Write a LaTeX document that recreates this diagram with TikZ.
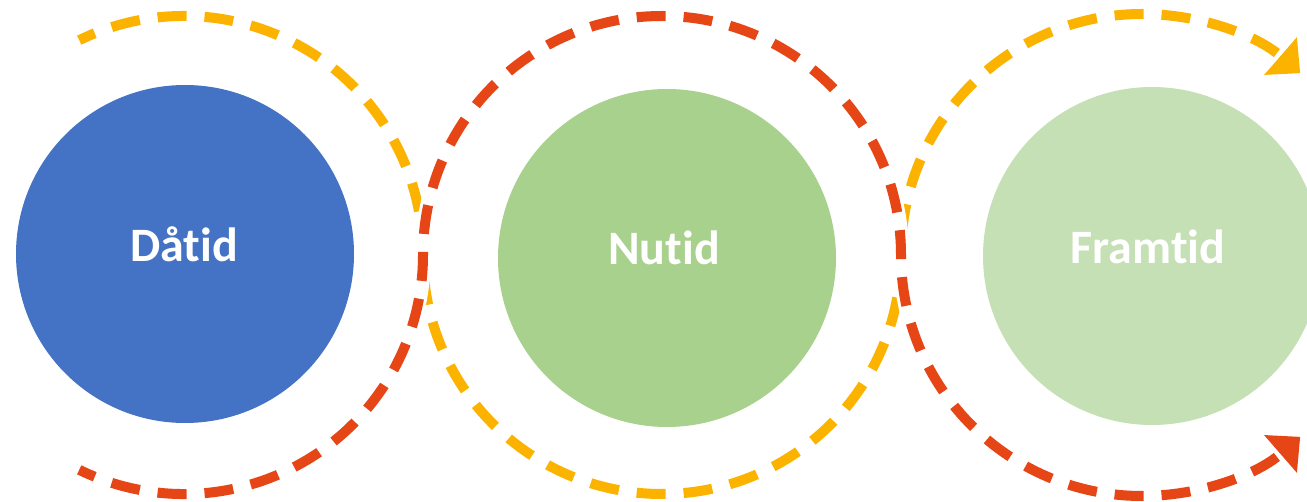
\documentclass[tikz,border=0pt]{standalone}
\usepackage{fontspec}
\setmainfont{Carlito}[Ligatures=NoCommon]
\usetikzlibrary{arrows.meta,calc}

\definecolor{pastblue}{HTML}{4472C4}
\definecolor{nowgreen}{HTML}{A9D18E}
\definecolor{futuregreen}{HTML}{C5E0B4}
\definecolor{loopgold}{HTML}{FBB300}
\definecolor{loopred}{HTML}{E64515}

\tikzset{
  era/.style={circle, minimum size=338pt, inner sep=0pt, draw=none},
  eralabel/.style={text=white, anchor=base, inner sep=0pt,
    font=\bfseries\fontsize{48}{58}\selectfont},
  loopline/.style={line width=10pt, dash pattern=on 29pt off 18pt, dash phase=12pt},
  loophalo/.style={line width=16pt, white},
  looptip/.style={-{Triangle[length=26pt,width=50pt,line width=0pt]}},
}

\begin{document}
\begin{tikzpicture}[x=1pt,y=1pt]
  \useasboundingbox (0,0) rectangle (1307,501);

  % the three periods
  \node[era, fill=pastblue]    (past)   at (185,247)  {};
  \node[era, fill=nowgreen]    (now)    at (667,243)  {};
  \node[era, fill=futuregreen] (future) at (1152,245) {};

  \node[eralabel] (pastlbl)   at (184,239.3)  {Dåtid};
  \node[eralabel] (nowlbl)    at (664,236.7)  {Nutid};
  \node[eralabel] (futurelbl) at (1148,237.7) {Framtid};

  % centres of the looping arcs
  \coordinate (c1) at (184,246);
  \coordinate (c2) at (662,246);
  \coordinate (c3) at (1140,246);
  \coordinate (goldstart) at ($(c1)+(116:239)$);
  \coordinate (redstart)  at ($(c1)+(244:239)$);

  % gold loop: over the past, under the present, over the future
  \draw[loopline, loopgold, looptip]
    (goldstart) arc[start angle=116, end angle=0, radius=239]
                arc[start angle=180, end angle=360, radius=239]
                arc[start angle=180, end angle=49, radius=241];

  % red loop: under the past, over the present, under the future
  \draw[loophalo, -{Triangle[length=30pt,width=60pt,line width=0pt]}]
    (redstart) arc[start angle=244, end angle=360, radius=239]
               arc[start angle=180, end angle=0, radius=239]
               arc[start angle=180, end angle=311, radius=241];
  \draw[loopline, loopred, looptip]
    (redstart) arc[start angle=244, end angle=360, radius=239]
               arc[start angle=180, end angle=0, radius=239]
               arc[start angle=180, end angle=311, radius=241];
\end{tikzpicture}
\end{document}
